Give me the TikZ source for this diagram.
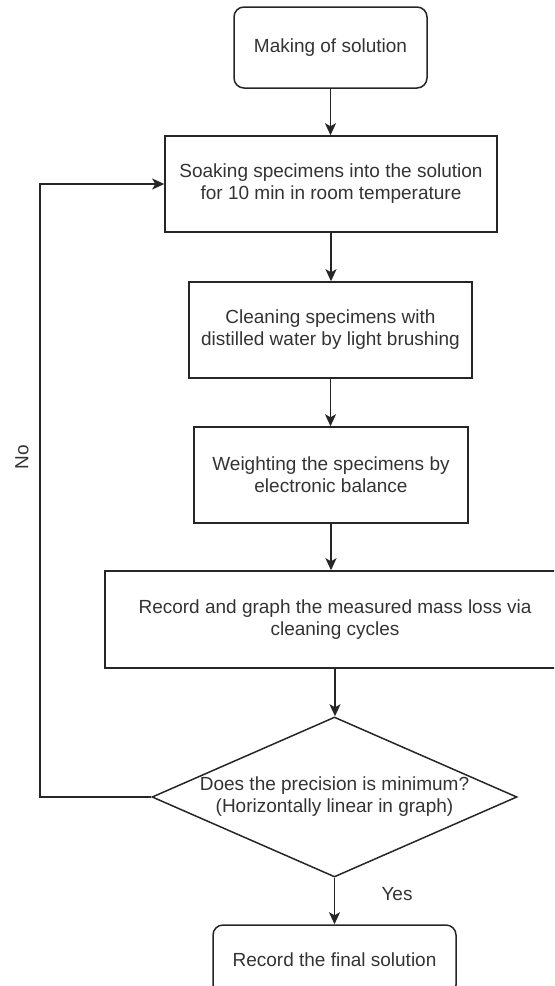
\documentclass[tikz,border=0pt]{standalone}
\usepackage{fontspec}
\setmainfont{Liberation Sans}
\usepackage{tikz}
\usetikzlibrary{shapes.geometric, arrows.meta}

\begin{document}
\begin{tikzpicture}[x=0.5pt, y=-0.5pt,
    >={Stealth[length=6pt, width=5.5pt, inset=1.5pt]},
    every node/.style={font=\fontsize{9.5}{11}\selectfont, text=black!80},
    stepbox/.style={draw=black!85, line width=0.75pt, align=center, minimum height=48pt, inner sep=0pt},
    endbox/.style={stepbox, rounded corners=5pt},
    decision/.style={draw=black!85, line width=0.75pt, diamond, aspect=2.28, minimum width=182.5pt, minimum height=80pt, inner sep=0pt, align=center},
    link/.style={->, draw=black!85, line width=0.75pt}]
\useasboundingbox (0,0) rectangle (554,986);
\clip (0,0) rectangle (554,986);

% Steps
\node[endbox, minimum width=96.5pt, minimum height=40.5pt] (start) at (330.5,47.5) {Making of solution};
\node[stepbox, minimum width=166pt] (soak) at (331,184) {Soaking specimens into the solution\\for 10 min in room temperature};
\node[stepbox, minimum width=141.5pt] (clean) at (330.5,330) {Cleaning specimens with\\distilled water by light brushing};
\node[stepbox, minimum width=137pt] (weigh) at (331,475) {Weighting the specimens by\\electronic balance};
\node[stepbox, minimum width=230pt, minimum height=48.5pt] (record) at (335,619.5) {Record and graph the measured mass loss via\\cleaning cycles};

% Check and end
\node[decision] (check) at (334.5,797) {Does the precision is minimum?\\(Horizontally linear in graph)};
\node[endbox, minimum width=121.5pt, minimum height=35pt] (final) at (334.5,960) {Record the final solution};

% Arrows down the chain
\foreach \a/\b in {start/soak, soak/clean, clean/weigh, weigh/record, record/check, check/final} {
    \draw[link] (\a.south) -- (\a.south |- \b.north);
}

% Loop back
\coordinate (back) at (40,0);
\draw[link] (check.west) -- (back |- check.west) |- (soak.west);
\node[rotate=90] (no) at (22,457) {No};
\node (yes) at (397,894) {Yes};
\end{tikzpicture}
\end{document}
